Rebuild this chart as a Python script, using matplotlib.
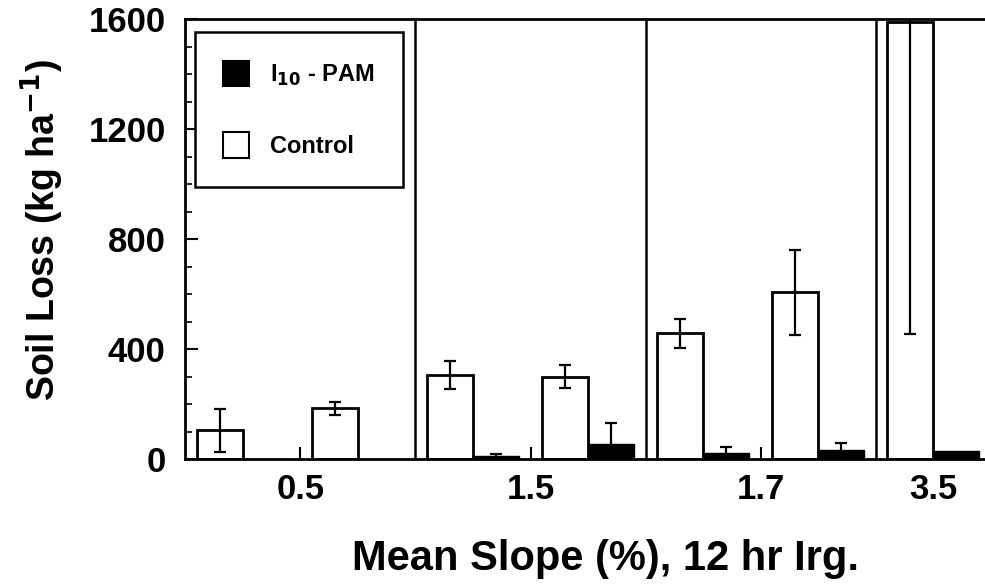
import numpy as np
import matplotlib
matplotlib.use("Agg")
import matplotlib.pyplot as plt
from matplotlib.patches import Patch
from matplotlib.ticker import MultipleLocator

plt.rcParams["font.family"] = ["Liberation Sans", "DejaVu Sans"]
plt.rcParams["font.weight"] = "bold"
plt.rcParams["mathtext.default"] = "bf"

# slope groups and bar pairs (control + PAM) inside each group
slope_labels = ["0.5", "1.5", "1.7", "3.5"]
pair_group = [0, 0, 1, 1, 2, 2, 3]
pair_slot = [0, 1, 0, 1, 0, 1, 0]
control_mean = [105, 185, 307, 300, 458, 606, 1590]
control_err = [77, 23, 50, 42, 53, 155, 1134]
pam_mean = [0, 0, 12, 55, 22, 33, 30]
pam_err = [0, 0, 8, 77, 22, 25, 0]

fig = plt.figure(figsize=(9.85, 5.85), dpi=100)
ax = fig.add_axes([0.188, 0.215, 0.812, 0.7525])

w = 0.2
x0 = np.array(pair_group) + 0.05 + 0.5 * np.array(pair_slot)
ekw = dict(ecolor="black", elinewidth=1.6, capsize=4, capthick=1.6)
ax.bar(x0, control_mean, w, align="edge", color="white", edgecolor="black",
       linewidth=2, yerr=control_err, error_kw=ekw, zorder=2)
ax.bar(x0 + w, pam_mean, w, align="edge", color="black", edgecolor="black",
       linewidth=1, zorder=2)
pe = np.array(pam_err)
m = pe > 0
ax.errorbar((x0 + 1.5 * w)[m], np.array(pam_mean)[m], yerr=pe[m], fmt="none",
            zorder=3, **ekw)

# group separators
for g in range(1, len(slope_labels)):
    ax.axvline(g, color="black", lw=1.8, zorder=1)

ax.set_xlim(0, 3.474)
ax.set_ylim(0, 1600)
ax.set_xticks([0.5, 1.5, 2.5, 3.25])
ax.set_xticklabels(slope_labels)
ax.set_yticks([0, 400, 800, 1200, 1600])
ax.yaxis.set_minor_locator(MultipleLocator(100))
ax.tick_params(axis="both", direction="in", labelsize=25, width=1.5, length=9)
ax.tick_params(axis="y", which="minor", direction="in", width=1.2, length=5)
ax.tick_params(axis="x", pad=10)
ax.tick_params(axis="y", pad=14)
for s in ["left", "bottom", "top"]:
    ax.spines[s].set_linewidth(2)
ax.spines["right"].set_visible(False)

ax.set_xlabel("Mean Slope (%), 12 hr Irg.", fontsize=30, fontweight="bold", labelpad=24)
ax.xaxis.label.set_x(0.526)
ax.set_ylabel("Soil Loss (kg ha$^{-1}$)", fontsize=27, fontweight="bold", labelpad=16)
ax.yaxis.label.set_y(0.52)

handles = [Patch(facecolor="black", edgecolor="black", lw=1.5),
           Patch(facecolor="white", edgecolor="black", lw=1.5)]
leg = ax.legend(handles, ["I$_{10}$ - PAM", "Control"], loc="upper left",
                bbox_to_anchor=(0.012, 0.97), fancybox=False, framealpha=1,
                edgecolor="black", prop={"size": 17, "weight": "bold"},
                handlelength=1.1, handleheight=1.3, labelspacing=1.9,
                borderpad=1.2, handletextpad=0.9, borderaxespad=0)
leg.get_frame().set_linewidth(1.8)

fig.savefig("out.png", dpi=100)
